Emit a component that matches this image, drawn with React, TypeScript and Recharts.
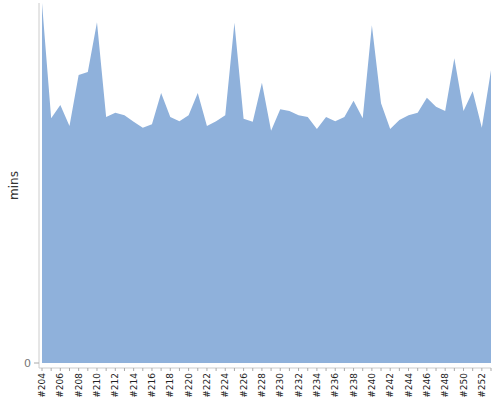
import { AreaChart, Area, XAxis, YAxis } from "recharts";

const builds = [
  "#204", "#205", "#206", "#207", "#208", "#209", "#210", "#211", "#212", "#213",
  "#214", "#215", "#216", "#217", "#218", "#219", "#220", "#221", "#222", "#223",
  "#224", "#225", "#226", "#227", "#228", "#229", "#230", "#231", "#232", "#233",
  "#234", "#235", "#236", "#237", "#238", "#239", "#240", "#241", "#242", "#243",
  "#244", "#245", "#246", "#247", "#248", "#249", "#250", "#251", "#252", "#253",
];

const mins = [
  60.0, 40.8, 43.0, 39.5, 48.0, 48.5, 56.8, 41.0, 41.7, 41.3,
  40.2, 39.2, 39.8, 45.0, 41.0, 40.3, 41.3, 45.0, 39.5, 40.3,
  41.3, 56.7, 40.7, 40.2, 46.7, 38.7, 42.3, 42.0, 41.3, 41.0,
  39.0, 41.0, 40.3, 41.0, 43.7, 40.8, 56.3, 43.3, 39.0, 40.5,
  41.3, 41.7, 44.2, 42.7, 42.0, 50.8, 42.0, 45.3, 39.2, 48.8,
];

const yTicks = [0];

const data = builds.map((b, i) => ({ build: b, mins: mins[i] }));

const font = "'DejaVu Sans', Verdana, sans-serif";

// label only every other build, but keep a tick mark on each one
function BuildTick(props: any) {
  const { x, y, payload, index } = props;
  if (index % 2 !== 0) return null;
  return (
    <text
      x={x}
      y={y}
      transform={`rotate(-90 ${x} ${y})`}
      textAnchor="end"
      dominantBaseline="central"
      fontSize={9}
      fontFamily={font}
      fill="#222"
    >
      {payload.value}
    </text>
  );
}

export default function App() {
  return (
    <div style={{ position: "absolute", left: 0, top: 0 }}>
      <AreaChart
        width={500}
        height={400}
        data={data}
        margin={{ top: 3, right: 9, left: 0, bottom: 0 }}
      >
        <XAxis
          dataKey="build"
          interval={0}
          height={32}
          padding={{ left: 3, right: 0 }}
          tickSize={3}
          tickMargin={2}
          tick={<BuildTick />}
          axisLine={{ stroke: "#ccc" }}
          tickLine={{ stroke: "#aaa" }}
        />
        <YAxis
          width={39}
          domain={[0, 60]}
          ticks={yTicks}
          padding={{ bottom: 5 }}
          tickSize={5}
          tickMargin={3}
          tick={{ fontSize: 11, fontFamily: font, fill: "#777" }}
          axisLine={{ stroke: "#ccc" }}
          tickLine={{ stroke: "#aaa" }}
          label={{
            value: "mins",
            angle: -90,
            position: "insideLeft",
            offset: 14,
            style: { textAnchor: "middle", fontSize: 12, fontFamily: font, fill: "#333" },
          }}
        />
        <Area
          type="linear"
          dataKey="mins"
          stroke="none"
          fill="#8fb1db"
          fillOpacity={1}
          isAnimationActive={false}
        />
      </AreaChart>
    </div>
  );
}
